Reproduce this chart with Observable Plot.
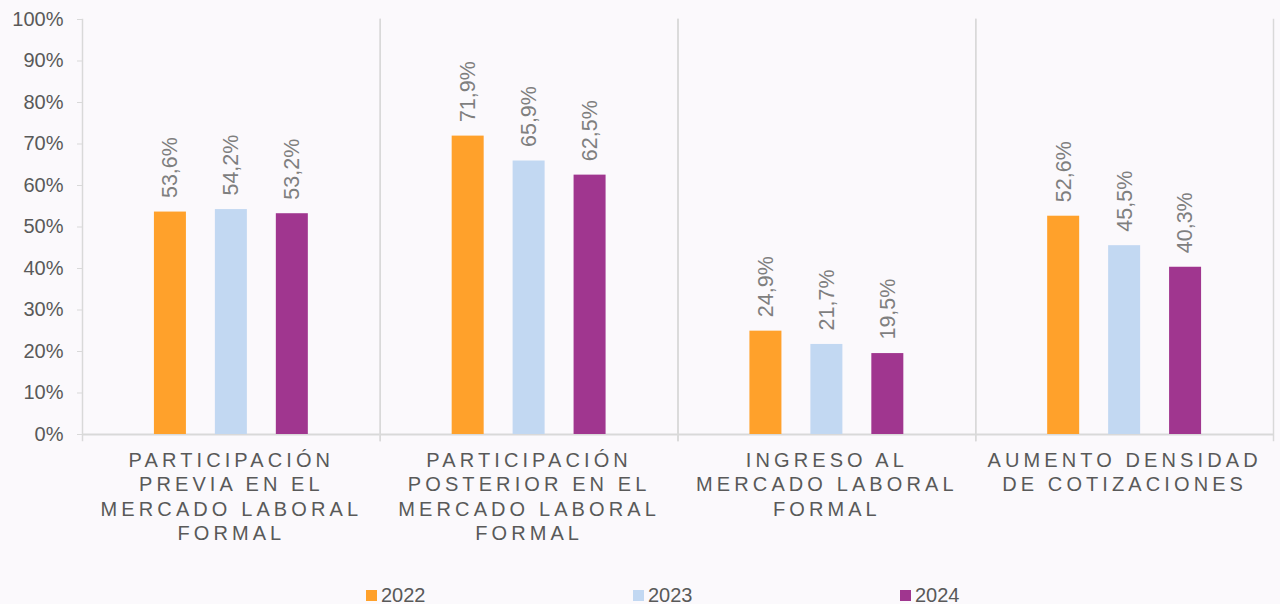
<!DOCTYPE html>
<html>
<head>
<meta charset="utf-8">
<script src="https://cdn.jsdelivr.net/npm/d3@7"></script>
<script src="https://cdn.jsdelivr.net/npm/@observablehq/plot@0.6"></script>
<style>
  html, body { margin: 0; padding: 0; background: #fbf9fc; }
  body { font-family: "Liberation Sans", Arial, sans-serif; width: 1280px; height: 604px; overflow: hidden; }
  g[aria-label="fx-axis tick label"] text { letter-spacing: 4.1px; }
  #legend { height: 24px; padding-top: 3px; display: flex; align-items: center; padding-left: 366px; font-size: 20px; color: #595959; }
  #legend .item { display: flex; align-items: center; width: 267px; }
  #legend .sw { width: 11px; height: 11px; margin-right: 4px; }
</style>
</head>
<body>
<div id="chart"></div>
<div id="legend"></div>
<script>
const categories = [
  "PARTICIPACIÓN\nPREVIA EN EL\nMERCADO LABORAL\nFORMAL",
  "PARTICIPACIÓN\nPOSTERIOR EN EL\nMERCADO LABORAL\nFORMAL",
  "INGRESO AL\nMERCADO LABORAL\nFORMAL",
  "AUMENTO DENSIDAD\nDE COTIZACIONES"
];
const years = ["2022", "2023", "2024"];
const values2022 = [53.6, 71.9, 24.9, 52.6];
const values2023 = [54.2, 65.9, 21.7, 45.5];
const values2024 = [53.2, 62.5, 19.5, 40.3];
const colors = ["#ffa12b", "#c2d8f2", "#a0368f"];
const yTicks = [0, 10, 20, 30, 40, 50, 60, 70, 80, 90, 100];

const series = [values2022, values2023, values2024];
const data = [];
categories.forEach((c, i) => {
  years.forEach((y, j) => data.push({category: c, year: y, value: series[j][i]}));
});
const fmt = v => v.toFixed(1).replace(".", ",") + "%";
const grid = "#d9d9d9";

const chart = Plot.plot({
  width: 1280,
  height: 580,
  marginLeft: 82,
  marginRight: 7,
  marginTop: 19,
  marginBottom: 146,
  style: {background: "#fbf9fc", fontFamily: "'Liberation Sans', Arial, sans-serif", fontSize: "20px", color: "#595959"},
  fx: {domain: categories, padding: 0, round: false, label: null},
  x: {domain: years, paddingInner: 0.475, paddingOuter: 1.18, round: false, axis: null},
  y: {domain: [0, 100], label: null},
  color: {domain: years, range: colors},
  marks: [
    Plot.frame({anchor: "left", stroke: grid, strokeWidth: 1.5, insetBottom: -6}),
    Plot.frame({anchor: "right", stroke: grid, strokeWidth: 1.5, insetBottom: -6}),
    Plot.ruleY([0], {stroke: grid, strokeWidth: 2}),
    Plot.barY(data, {fx: "category", x: "year", y: "value", fill: "year"}),
    Plot.text(data, {fx: "category", x: "year", y: "value", text: d => fmt(d.value), rotate: -90, textAnchor: "start", dy: -14, fill: "#7f7f7f", fontSize: 21.5}),
    Plot.axisY({ticks: yTicks, tickFormat: d => d + "%", tickSize: 5, tickPadding: 14, stroke: grid, fill: "#595959", fontSize: 20, label: null}),
    Plot.axisFx({anchor: "bottom", tickSize: 0, tickPadding: 15, lineHeight: 1.22, fontSize: 20, fill: "#595959", label: null})
  ]
});
document.getElementById("chart").appendChild(chart);

const legend = document.getElementById("legend");
years.forEach((y, i) => {
  const item = document.createElement("div");
  item.className = "item";
  const sw = document.createElement("span");
  sw.className = "sw";
  sw.style.background = colors[i];
  const t = document.createElement("span");
  t.textContent = y;
  item.appendChild(sw);
  item.appendChild(t);
  legend.appendChild(item);
});
</script>
</body>
</html>
